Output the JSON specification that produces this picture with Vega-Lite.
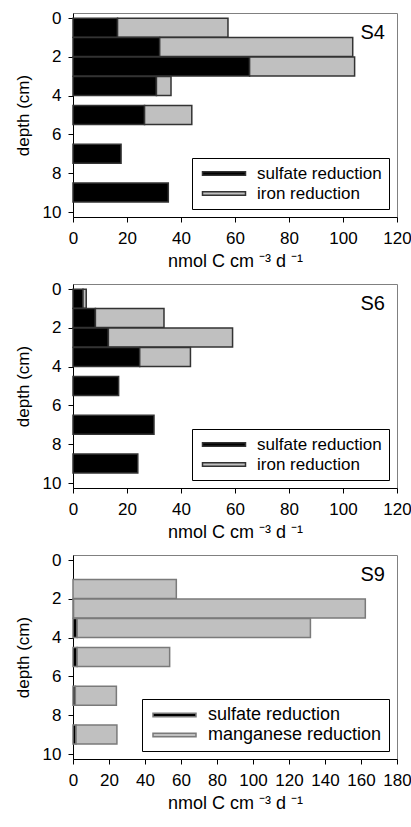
{
  "$schema": "https://vega.github.io/schema/vega-lite/v6.json",
  "padding": {"left": 13, "top": 8, "right": 2, "bottom": 5},
  "background": "white",
  "config": {
    "font": "Liberation Sans",
    "view": {"stroke": "#808080", "strokeWidth": 1},
    "axis": {
      "grid": false,
      "domainColor": "#000000",
      "domainWidth": 1,
      "tickColor": "#000000",
      "tickSize": 5,
      "labelFontSize": 17,
      "labelColor": "#000000",
      "labelPadding": 8,
      "labelOverlap": false,
      "labelFlush": false,
      "titleFontSize": 18,
      "titleFontWeight": "normal",
      "titleColor": "#000000",
      "titlePadding": 6
    },
    "axisY": {"titleFontSize": 17, "labelPadding": 7, "titlePadding": 10},
    "legend": {
      "orient": "bottom-right",
      "offset": 8,
      "strokeColor": "#000000",
      "fillColor": "white",
      "padding": 7,
      "rowPadding": 2,
      "labelFontSize": 17,
      "labelColor": "#000000",
      "labelLimit": 400,
      "labelOffset": 41,
      "symbolType": "M-1,-0.35H7.6V0.35H-1Z",
      "symbolSize": 100,
      "symbolStrokeWidth": 1.5,
      "symbolStrokeColor": "#333333",
      "symbolOpacity": 1,
      "title": null
    },
    "title": {"fontSize": 20, "fontWeight": "normal", "color": "#000000", "anchor": "end", "frame": "group", "offset": -34, "dx": -12}
  },
  "datasets": {
    "s4": [
      {"depth": 0.5, "process": "sulfate reduction", "rank": 1, "rate": 16.5},
      {"depth": 0.5, "process": "iron reduction", "rank": 2, "rate": 40.9},
      {"depth": 1.5, "process": "sulfate reduction", "rank": 1, "rate": 32.1},
      {"depth": 1.5, "process": "iron reduction", "rank": 2, "rate": 71.5},
      {"depth": 2.5, "process": "sulfate reduction", "rank": 1, "rate": 65.4},
      {"depth": 2.5, "process": "iron reduction", "rank": 2, "rate": 38.9},
      {"depth": 3.5, "process": "sulfate reduction", "rank": 1, "rate": 30.9},
      {"depth": 3.5, "process": "iron reduction", "rank": 2, "rate": 5.4},
      {"depth": 5, "process": "sulfate reduction", "rank": 1, "rate": 26.5},
      {"depth": 5, "process": "iron reduction", "rank": 2, "rate": 17.5},
      {"depth": 7, "process": "sulfate reduction", "rank": 1, "rate": 17.8},
      {"depth": 9, "process": "sulfate reduction", "rank": 1, "rate": 35.3}
    ],
    "s6": [
      {"depth": 0.5, "process": "sulfate reduction", "rank": 1, "rate": 3.7},
      {"depth": 0.5, "process": "iron reduction", "rank": 2, "rate": 1.2},
      {"depth": 1.5, "process": "sulfate reduction", "rank": 1, "rate": 8.3},
      {"depth": 1.5, "process": "iron reduction", "rank": 2, "rate": 25.4},
      {"depth": 2.5, "process": "sulfate reduction", "rank": 1, "rate": 13.1},
      {"depth": 2.5, "process": "iron reduction", "rank": 2, "rate": 46.0},
      {"depth": 3.5, "process": "sulfate reduction", "rank": 1, "rate": 24.7},
      {"depth": 3.5, "process": "iron reduction", "rank": 2, "rate": 18.8},
      {"depth": 5, "process": "sulfate reduction", "rank": 1, "rate": 16.9},
      {"depth": 7, "process": "sulfate reduction", "rank": 1, "rate": 30.0},
      {"depth": 9, "process": "sulfate reduction", "rank": 1, "rate": 24.0}
    ],
    "s9": [
      {"depth": 1.5, "process": "manganese reduction", "rank": 2, "rate": 57.4},
      {"depth": 2.5, "process": "sulfate reduction", "rank": 1, "rate": 0.3},
      {"depth": 2.5, "process": "manganese reduction", "rank": 2, "rate": 162.1},
      {"depth": 3.5, "process": "sulfate reduction", "rank": 1, "rate": 2.3},
      {"depth": 3.5, "process": "manganese reduction", "rank": 2, "rate": 129.6},
      {"depth": 5, "process": "sulfate reduction", "rank": 1, "rate": 2.3},
      {"depth": 5, "process": "manganese reduction", "rank": 2, "rate": 51.4},
      {"depth": 7, "process": "sulfate reduction", "rank": 1, "rate": 1.3},
      {"depth": 7, "process": "manganese reduction", "rank": 2, "rate": 22.8},
      {"depth": 9, "process": "sulfate reduction", "rank": 1, "rate": 1.7},
      {"depth": 9, "process": "manganese reduction", "rank": 2, "rate": 22.7}
    ]
  },
  "spacing": 8,
  "resolve": {"scale": {"color": "independent", "x": "independent", "y": "independent"}, "legend": {"color": "independent"}},
  "vconcat": [
    {
      "width": 324, "height": 204,
      "title": {"text": "S4"},
      "data": {"name": "s4"},
      "mark": {"type": "bar", "orient": "horizontal", "size": 19, "stroke": "#333333", "strokeWidth": 1.5},
      "encoding": {
        "y": {"field": "depth", "type": "quantitative", "scale": {"domain": [0, 10], "reverse": true, "nice": false}, "axis": {"values": [0, 2, 4, 6, 8, 10], "title": "depth (cm)"}},
        "x": {"field": "rate", "type": "quantitative", "stack": "zero", "scale": {"domain": [0, 120], "nice": false}, "axis": {"values": [0, 20, 40, 60, 80, 100, 120], "title": "nmol C cm ⁻³ d ⁻¹"}},
        "color": {"field": "process", "type": "nominal", "scale": {"domain": ["sulfate reduction", "iron reduction"], "range": ["#000000", "#c0c0c0"]}, "legend": {"labelExpr": "datum.label + ' '"}},
        "order": {"field": "rank"}
      }
    },
    {
      "width": 324, "height": 204,
      "title": {"text": "S6"},
      "data": {"name": "s6"},
      "mark": {"type": "bar", "orient": "horizontal", "size": 19, "stroke": "#333333", "strokeWidth": 1.5},
      "encoding": {
        "y": {"field": "depth", "type": "quantitative", "scale": {"domain": [0, 10], "reverse": true, "nice": false}, "axis": {"values": [0, 2, 4, 6, 8, 10], "title": "depth (cm)"}},
        "x": {"field": "rate", "type": "quantitative", "stack": "zero", "scale": {"domain": [0, 120], "nice": false}, "axis": {"values": [0, 20, 40, 60, 80, 100, 120], "title": "nmol C cm ⁻³ d ⁻¹"}},
        "color": {"field": "process", "type": "nominal", "scale": {"domain": ["sulfate reduction", "iron reduction"], "range": ["#000000", "#c0c0c0"]}, "legend": {"labelExpr": "datum.label + ' '"}},
        "order": {"field": "rank"}
      }
    },
    {
      "width": 324, "height": 204,
      "title": {"text": "S9"},
      "data": {"name": "s9"},
      "mark": {"type": "bar", "orient": "horizontal", "size": 19, "stroke": "#7a7a7a", "strokeWidth": 1.5},
      "encoding": {
        "y": {"field": "depth", "type": "quantitative", "scale": {"domain": [0, 10], "reverse": true, "nice": false}, "axis": {"values": [0, 2, 4, 6, 8, 10], "title": "depth (cm)"}},
        "x": {"field": "rate", "type": "quantitative", "stack": "zero", "scale": {"domain": [0, 180], "nice": false}, "axis": {"values": [0, 20, 40, 60, 80, 100, 120, 140, 160, 180], "title": "nmol C cm ⁻³ d ⁻¹"}},
        "color": {"field": "process", "type": "nominal", "scale": {"domain": ["sulfate reduction", "manganese reduction"], "range": ["#000000", "#c0c0c0"]}, "legend": {"labelFontSize": 18, "symbolStrokeColor": "#7a7a7a"}},
        "order": {"field": "rank"}
      }
    }
  ]
}
